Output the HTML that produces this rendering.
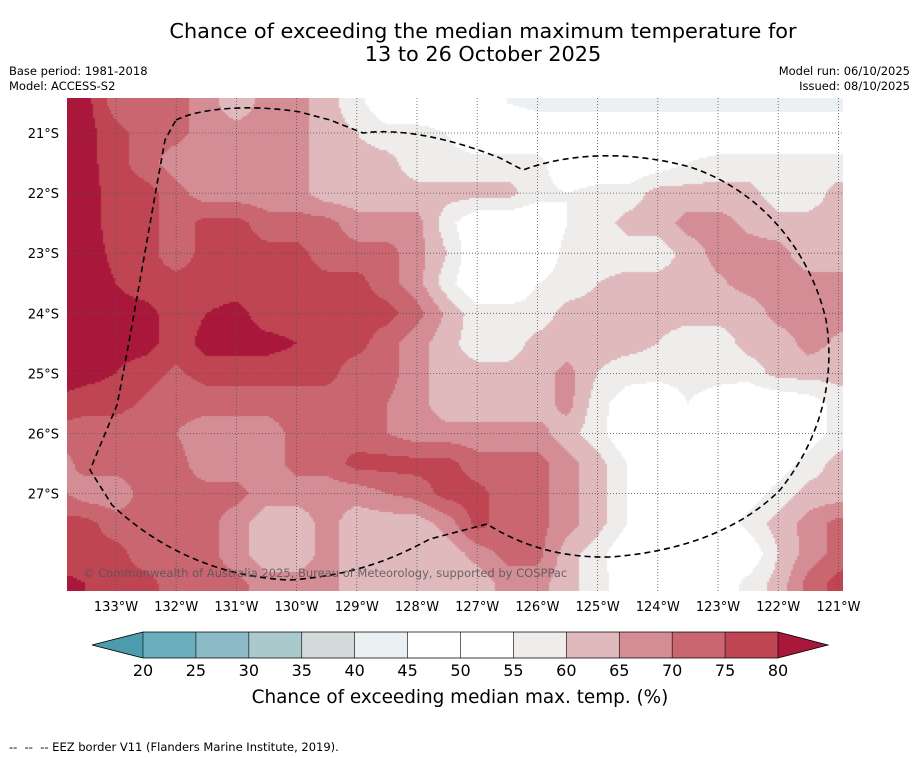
<!DOCTYPE html>
<html><head><meta charset="utf-8"><style>
body{margin:0;background:#fff;width:919px;height:758px;overflow:hidden;font-family:"DejaVu Sans","Liberation Sans",sans-serif;}
#wrap{position:relative;width:919px;height:758px;}
canvas{position:absolute;left:67px;top:98px;}
svg{position:absolute;left:0;top:0;font-family:"DejaVu Sans","Liberation Sans",sans-serif;}
</style></head><body>
<div id="wrap">
<canvas id="field" width="776" height="493"></canvas>
<svg id="ov" width="919" height="758">
<text x="483" y="38" text-anchor="middle" font-size="20.8" fill="#000">Chance of exceeding the median maximum temperature for</text>
<text x="483" y="61" text-anchor="middle" font-size="20.8" fill="#000">13 to 26 October 2025</text>
<text x="9" y="75" font-size="11.5">Base period: 1981-2018</text>
<text x="9" y="90" font-size="11.5">Model: ACCESS-S2</text>
<text x="910" y="75" font-size="11.5" text-anchor="end">Model run: 06/10/2025</text>
<text x="910" y="90" font-size="11.5" text-anchor="end">Issued: 08/10/2025</text>
<g id="grid"></g>
<path id="eez" fill="none" stroke="#000" stroke-width="1.6" stroke-dasharray="6,4"
 d="M176,120 C200,108 250,104 300,112 L330,120 L363,133 C400,128 450,138 500,158 L523,170 C560,156 620,148 690,167 C760,190 810,250 826,320 C836,380 820,440 780,490 C740,530 680,552 610,557 C560,558 520,545 487,524 L430,539 C400,555 360,575 290,580 C220,577 160,550 112,505 L90,470 L117,405 C130,340 145,250 165,140 Z"/>
<text x="83" y="577" font-size="11.5" fill="#555" fill-opacity="0.85">© Commonwealth of Australia 2025, Bureau of Meteorology, supported by COSPPac</text>
<g id="xt"></g>
<g id="yt"></g>
<g id="cb"></g>
<text x="460" y="703" text-anchor="middle" font-size="18.4">Chance of exceeding median max. temp. (%)</text>
<text x="9" y="751" font-size="11.5">-- &#160;-- &#160;-- EEZ border V11 (Flanders Marine Institute, 2019).</text>
</svg>
</div>
<script>
const lonTicks=[133,132,131,130,129,128,127,126,125,124,123,122,121];
const latTicks=[21,22,23,24,25,26,27];
const cbLevels=[20,25,30,35,40,45,50,55,60,65,70,75,80];
const cbColors=["#6aaebe","#8cbac6","#a9c9cd","#d4dad9","#ebf0f2","#ffffff","#ffffff","#eeedec","#e0b9bd","#d48d95","#c9666f","#bf4553"];
const underColor="#4c9cae", overColor="#a9183a";
// grid nodes: lon 134W..120.5W step 0.5, lat 20S..29S step 0.5
const gridLon0=134, gridLat0=20, gridStep=0.5;
const r205=[82,82,72,72,72,67,62,67,67,62,57,50,50,50,50,45,43,43,43,43,43,43,43,43,43,43,43,43];
const r210=[82,82,77,72,72,67,67,67,67,62,60,57,57,55,50,50,50,50,50,50,50,50,50,50,50,50,50,50];
const r215=[82,82,77,72,67,67,67,67,67,62,62,62,57,57,57,57,57,50,50,50,52,55,57,57,57,57,57,57];
const r220=[82,82,78,77,72,67,67,67,67,62,62,62,62,62,62,62,57,55,57,57,62,62,62,62,57,57,62,62];
const r225=[82,82,78,77,72,77,77,72,72,72,67,67,67,57,50,50,50,55,57,62,62,67,67,64,62,62,62,62];
const r230=[82,82,79,77,72,77,77,77,77,72,72,72,67,60,50,50,50,57,57,57,57,62,67,67,67,62,62,62];
const r235=[82,82,80,77,77,77,77,77,77,77,77,72,67,57,50,50,55,57,60,62,62,62,64,67,67,67,67,64];
const r240=[82,82,82,82,77,80,82,77,77,77,77,77,72,64,57,57,57,62,62,62,62,62,62,62,67,67,67,67];
const r245=[82,82,82,82,77,82,82,82,80,77,77,72,67,62,57,57,62,62,62,62,60,57,57,62,62,67,64,62];
const r250=[82,82,80,77,74,77,77,77,77,77,72,72,67,62,62,62,62,67,60,57,57,57,57,57,62,62,62,62];
const r255=[80,77,77,74,72,72,72,72,72,72,72,70,67,62,62,62,62,67,57,52,50,55,52,50,50,52,57,57];
const r260=[72,72,72,72,70,67,67,67,72,72,72,70,67,67,67,67,67,62,57,50,50,50,50,50,50,52,57,60];
const r265=[67,72,72,72,72,67,67,67,72,72,77,77,77,77,72,72,72,67,62,55,50,50,50,50,52,57,62,62];
const r270=[72,67,67,72,72,72,72,67,67,67,67,70,72,77,77,72,72,67,62,55,50,50,50,52,57,62,62,62];
const r275=[77,77,72,72,72,72,67,62,62,67,62,62,62,67,77,72,72,67,62,55,50,50,50,57,62,67,72,72];
const r280=[77,77,77,72,72,72,67,62,62,67,62,62,62,62,67,72,72,62,57,50,50,50,50,50,60,67,72,77];
const r285=[82,80,77,77,72,72,72,67,67,67,62,62,62,62,62,67,67,62,57,52,50,50,50,57,62,72,77,77];
const rows=[r205,r205,r210,r215,r220,r225,r230,r235,r240,r245,r250,r255,r260,r265,r270,r275,r280,r285,r285];

const X=lon=>116+(133-lon)*60.2;
const Y=lat=>133+(lat-21)*60.1;
function colorFor(v){
  if(v<cbLevels[0])return underColor;
  if(v>=cbLevels[cbLevels.length-1])return overColor;
  for(let i=0;i<cbColors.length;i++){if(v<cbLevels[i+1])return cbColors[i];}
  return overColor;
}
const cv=document.getElementById('field'),ctx=cv.getContext('2d');
const nx=rows[0].length,ny=rows.length;
const px0=X(gridLon0),py0=Y(gridLat0),dpx=X(gridLon0-gridStep)-px0,dpy=Y(gridLat0+gridStep)-py0;
const B=2;
for(let yy=0;yy<493;yy+=B){for(let xx=0;xx<776;xx+=B){
  const ax=67+xx+B/2,ay=98+yy+B/2;
  let fx=(ax-px0)/dpx,fy=(ay-py0)/dpy;
  fx=Math.max(0,Math.min(nx-1.0001,fx));fy=Math.max(0,Math.min(ny-1.0001,fy));
  const i=Math.floor(fx),j=Math.floor(fy),tx=fx-i,ty=fy-j;
  const v=rows[j][i]*(1-tx)*(1-ty)+rows[j][i+1]*tx*(1-ty)+rows[j+1][i]*(1-tx)*ty+rows[j+1][i+1]*tx*ty;
  ctx.fillStyle=colorFor(v);ctx.fillRect(xx,yy,B,B);
}}
const NS='http://www.w3.org/2000/svg';
function mk(tag,attrs,parent){const e=document.createElementNS(NS,tag);for(const k in attrs)e.setAttribute(k,attrs[k]);parent.appendChild(e);return e;}
const g=document.getElementById('grid'),xt=document.getElementById('xt'),yt=document.getElementById('yt');
lonTicks.forEach(l=>{
  const x=X(l);
  const ln=mk('line',{x1:x,x2:x,y1:98,y2:591,stroke:'#555','stroke-width':0.8,'stroke-dasharray':'1,2'},g);
  
  
  const t=mk('text',{x:x,y:611,'text-anchor':'middle','font-size':13},xt);t.textContent=l+'°W';
  
  
});
latTicks.forEach(l=>{
  const y=Y(l);
  const ln=mk('line',{x1:67,x2:843,y1:y,y2:y,stroke:'#555','stroke-width':0.8,'stroke-dasharray':'1,2'},g);
  
  
  const t=mk('text',{x:59,y:y+5,'text-anchor':'end','font-size':13},yt);t.textContent=l+'°S';
  
  
});
const cb=document.getElementById('cb');
const cbX=v=>143+(v-20)*(778-143)/60, cbY0=632, cbY1=658;
cbColors.forEach((c,i)=>{
  const r=mk('rect',{x:cbX(cbLevels[i]),y:cbY0,width:cbX(cbLevels[i+1])-cbX(cbLevels[i]),height:cbY1-cbY0,fill:c},cb);
  
  
});
const lt=mk('polygon',{points:`${cbX(20)},${cbY0} 92,645 ${cbX(20)},${cbY1}`,fill:underColor},cb);


const rt=mk('polygon',{points:`${cbX(80)},${cbY0} 828,645 ${cbX(80)},${cbY1}`,fill:overColor},cb);


cbLevels.forEach(v=>{
  const x=cbX(v);
  mk('line',{x1:x,x2:x,y1:cbY0,y2:cbY1,stroke:'#000','stroke-width':0.6},cb);
  const t=mk('text',{x:x,y:676,'text-anchor':'middle','font-size':16},cb);t.textContent=v;
  
  
});
const ol=mk('polygon',{points:`92,645 ${cbX(20)},${cbY0} ${cbX(80)},${cbY0} 828,645 ${cbX(80)},${cbY1} ${cbX(20)},${cbY1}`,fill:'none',stroke:'#000','stroke-width':0.8},cb);


</script>
</body></html>
